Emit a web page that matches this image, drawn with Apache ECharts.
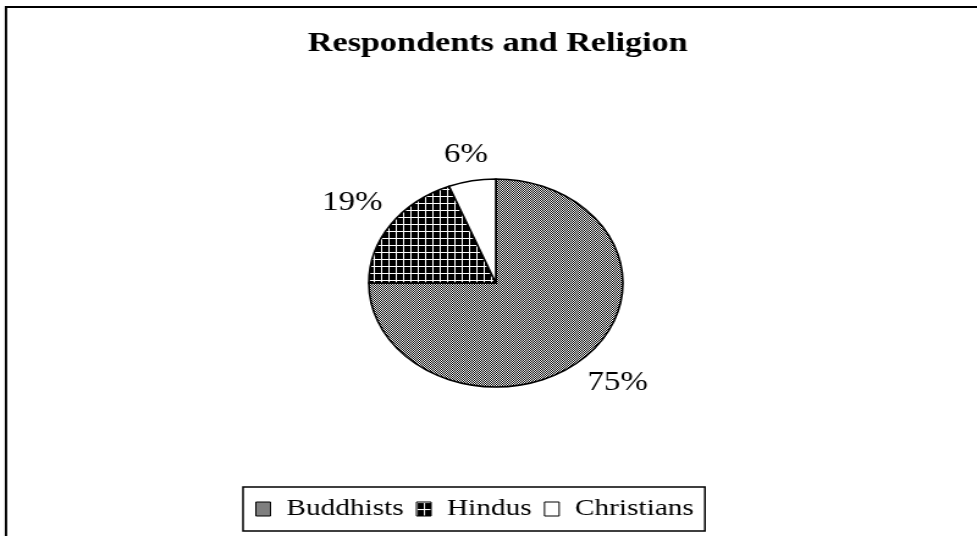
<!DOCTYPE html>
<html>
<head>
<meta charset="utf-8">
<script src="https://cdn.jsdelivr.net/npm/echarts@6/dist/echarts.min.js"></script>
<style>
  html, body { margin: 0; padding: 0; background: #fff; }
  #frame { width: 977px; height: 536px; overflow: hidden; position: relative; }
  /* The chart is laid out at 800px wide and widened to the full frame */
  #chart { width: 800px; height: 536px; transform: scaleX(1.22125); transform-origin: 0 0; }
</style>
</head>
<body>
<div id="frame"><div id="chart"></div></div>
<script>
// Survey data
const chartTitle = 'Respondents and Religion';
const categories = ['Buddhists', 'Hindus', 'Christians'];
const shares = [75, 19, 6];

const FONT = '"Liberation Serif", "Times New Roman", serif';
const CX = 406, CY = 283, R = 104, LABEL_GAP = 10;

// Fill patterns for the slices
function checkerPattern() {
  const c = document.createElement('canvas');
  c.width = 2; c.height = 2;
  const g = c.getContext('2d');
  g.fillStyle = '#fff'; g.fillRect(0, 0, 2, 2);
  g.fillStyle = '#000'; g.fillRect(0, 0, 1, 1); g.fillRect(1, 1, 1, 1);
  return c;
}
function plaidPattern() {
  const c = document.createElement('canvas');
  c.width = 6; c.height = 7;
  const g = c.getContext('2d');
  g.fillStyle = '#000'; g.fillRect(0, 0, 6, 7);
  g.fillStyle = '#fff'; g.fillRect(0, 0, 6, 1); g.fillRect(0, 0, 1, 7);
  return c;
}
const fills = [
  { image: checkerPattern(), repeat: 'repeat' },
  { image: plaidPattern(), repeat: 'repeat' },
  '#ffffff'
];

const total = shares.reduce((a, b) => a + b, 0);

// Place each percentage just outside its slice, along the slice's middle angle
function placeLabel(params) {
  const i = params.dataIndex;
  let before = 0;
  for (let k = 0; k < i; k++) before += shares[k];
  const midDeg = 90 - (before + shares[i] / 2) / total * 360;
  const a = midDeg * Math.PI / 180;
  const dx = Math.cos(a), dy = -Math.sin(a);
  const w = params.labelRect.width, h = params.labelRect.height;
  const ext = Math.abs(dx) * w / 2 + Math.abs(dy) * h / 2;
  const d = R + LABEL_GAP + ext;
  return { x: CX + dx * d, y: CY + dy * d, align: 'center', verticalAlign: 'middle' };
}

const chart = echarts.init(document.getElementById('chart'), null, { renderer: 'canvas' });
chart.setOption({
  animation: false,
  backgroundColor: '#fff',
  title: {
    text: chartTitle,
    left: 252,
    top: 30,
    padding: 0,
    textStyle: { fontFamily: FONT, fontSize: 28, fontWeight: 'bold', color: '#000' }
  },
  legend: {
    data: categories,
    left: 199,
    top: 487,
    orient: 'horizontal',
    icon: 'rect',
    itemWidth: 12,
    itemHeight: 14,
    itemGap: 10,
    padding: [10, 9, 10, 10],
    borderColor: '#000',
    borderWidth: 1.5,
    selectedMode: false,
    itemStyle: { borderColor: '#000', borderWidth: 1 },
    textStyle: { fontFamily: FONT, fontSize: 24, color: '#000', padding: [0, 0, 0, 8] }
  },
  graphic: [{
    type: 'rect',
    silent: true,
    shape: { x: 4.9, y: 7, width: 900, height: 600 },
    style: { fill: 'none', stroke: '#000', lineWidth: 2 }
  }],
  series: [{
    type: 'pie',
    center: [CX, CY],
    radius: R,
    startAngle: 90,
    clockwise: true,
    avoidLabelOverlap: false,
    emphasis: { disabled: true },
    itemStyle: { borderColor: '#000', borderWidth: 1.6 },
    label: {
      show: true,
      position: 'outside',
      formatter: '{c}%',
      fontFamily: FONT,
      fontSize: 27,
      color: '#000'
    },
    labelLine: { show: false },
    labelLayout: placeLabel,
    data: categories.map((name, i) => ({
      name: name,
      value: shares[i],
      itemStyle: { color: fills[i] }
    }))
  }]
});
</script>
</body>
</html>
